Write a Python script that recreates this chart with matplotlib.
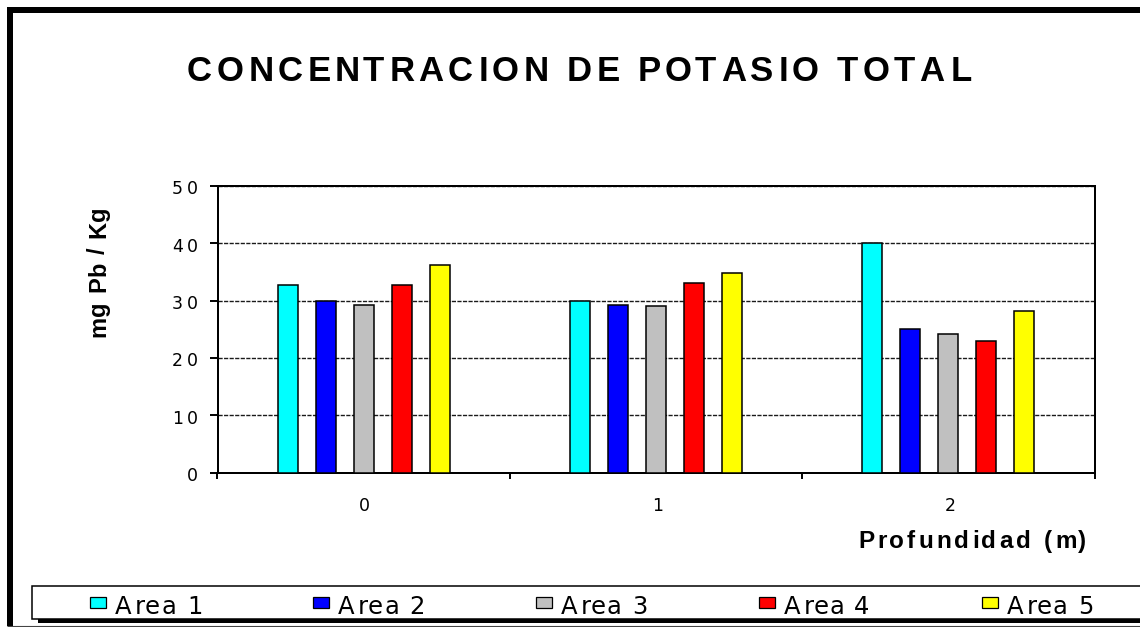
import matplotlib
matplotlib.use("Agg")
import numpy as np
import matplotlib.pyplot as plt
import matplotlib.transforms as mtransforms
from matplotlib import font_manager
from matplotlib.font_manager import FontProperties, findfont, get_font
from matplotlib.ft2font import LoadFlags
from matplotlib.patches import Rectangle
from matplotlib.lines import Line2D

# ---- data -------------------------------------------------------------
title = "CONCENTRACION DE POTASIO TOTAL"
y_label = "mg Pb / Kg"
x_label = "Profundidad (m)"
depths = ["0", "1", "2"]
areas = ["Area 1", "Area 2", "Area 3", "Area 4", "Area 5"]
area1 = [32.8, 30.0, 40.0]
area2 = [30.0, 29.3, 25.1]
area3 = [29.3, 29.0, 24.1]
area4 = [32.8, 33.1, 23.0]
area5 = [36.3, 34.9, 28.2]
y_ticks = [0, 10, 20, 30, 40, 50]
colors = ["#00FFFF", "#0000FF", "#C0C0C0", "#FF0000", "#FFFF00"]

series = [area1, area2, area3, area4, area5]

# ---- figure geometry (pixels) ----------------------------------------
DPI = 100
W, H = 1140, 627
fig = plt.figure(figsize=(W / DPI, H / DPI), dpi=DPI)
fig.patch.set_facecolor("white")

_names = {f.name for f in font_manager.fontManager.ttflist}
SANS = "Liberation Sans" if "Liberation Sans" in _names else "DejaVu Sans"
WIDE = "DejaVu Sans"


def fx(x):
    return x / W


def fy(y):
    return 1 - y / H


def glyph_metrics(s, size, weight, family):
    fp = FontProperties(family=family, weight=weight, size=size)
    font = get_font(findfont(fp))
    font.set_size(size, DPI)
    out = []
    for ch in s:
        g = font.load_char(ord(ch), flags=LoadFlags.NO_HINTING)
        out.append((g.linearHoriAdvance / 65536, g.horiBearingX / 64, g.width / 64))
    return out


def spaced_text(base, x, y, s, size, weight="normal", family=SANS, ha="left",
                span=None, track=0.0, vertical=False, ox=0.0, oy=0.0, color="black"):
    """Draw text letter by letter with extra tracking between the glyphs."""
    m = glyph_metrics(s, size, weight, family)
    n = len(s)
    pens = np.cumsum([0.0] + [a for a, _, _ in m[:-1]])
    natural = pens[-1] + m[-1][1] + m[-1][2] - m[0][1]
    if span is not None and n > 1:
        track = (span - natural) / (n - 1)
    total = natural + track * (n - 1)
    shift = {"left": 0.0, "center": -total / 2, "right": -total}[ha]
    for i, ch in enumerate(s):
        if ch == " ":
            continue
        d = shift + pens[i] + i * track + m[i][1] - m[0][1]
        dx, dy = (0.0, d) if vertical else (d, 0.0)
        tr = base + mtransforms.ScaledTranslation((ox + dx) / DPI, (oy + dy) / DPI,
                                                  fig.dpi_scale_trans)
        fig.text(x, y, ch, transform=tr, ha="left", va="baseline",
                 rotation=90 if vertical else 0, rotation_mode="anchor",
                 fontsize=size, fontweight=weight, family=family, color=color)


def px_rect(x, y_top, w, h, **kw):
    r = Rectangle((fx(x), fy(y_top + h)), w / W, h / H, transform=fig.transFigure, **kw)
    fig.add_artist(r)
    return r


# ---- plot area --------------------------------------------------------
ax_left, ax_right, ax_top, ax_bottom = 217.5, 1094.5, 186.0, 472.5
ax = fig.add_axes([fx(ax_left), fy(ax_bottom), (ax_right - ax_left) / W,
                   (ax_bottom - ax_top) / H])
ax.set_facecolor("white")
ax.set_xlim(-0.5, len(depths) - 0.5)
ax.set_ylim(y_ticks[0], y_ticks[-1])

x = np.arange(len(depths))
step = 0.13
width = 0.068
for i, vals in enumerate(series):
    ax.bar(x + (i - 2) * step, vals, width, color=colors[i], edgecolor="black",
           linewidth=1.1, zorder=3)

ax.set_yticks(y_ticks)
ax.set_xticks(np.arange(len(depths) + 1) - 0.5)
ax.yaxis.grid(True, color="#1a1a1a", linewidth=1.0, linestyle=(0, (3, 1)), zorder=1)
ax.set_axisbelow(True)
ax.tick_params(axis="y", direction="out", length=5.8, width=1.4, labelleft=False)
ax.tick_params(axis="x", direction="out", length=4.3, width=1.4, labelbottom=False)
for sp in ax.spines.values():
    sp.set_linewidth(1.44)
    sp.set_color("black")

# y tick labels
ybase = mtransforms.blended_transform_factory(ax.transAxes, ax.transData)
for v in y_ticks:
    s = str(v)
    spaced_text(ybase, 0, v, s, 12.5, family=WIDE, ha="right",
                span=24 if len(s) > 1 else None, ox=196 - ax_left, oy=-8.5)

# x tick labels
xbase = mtransforms.blended_transform_factory(ax.transData, ax.transAxes)
for i, lab in enumerate(depths):
    spaced_text(xbase, i, 0, lab, 12.5, family=WIDE, ha="center",
                oy=-(511 - ax_bottom))

# ---- titles -----------------------------------------------------------
spaced_text(fig.transFigure, fx(187), fy(81), title, 25, weight="bold",
            ha="left", span=781)
spaced_text(fig.transFigure, fx(105), fy(337), y_label, 17, weight="bold",
            ha="left", span=128, vertical=True)
spaced_text(fig.transFigure, fx(1085), fy(548), x_label, 17.5, weight="bold",
            ha="right", span=227)

# ---- legend -----------------------------------------------------------
px_rect(38, 592, 1120, 31, facecolor="black", edgecolor="none", zorder=2)
px_rect(32, 586, 1120, 33, facecolor="white", edgecolor="black", linewidth=1.1, zorder=3)
for i, name in enumerate(areas):
    sq = 90 + i * 223
    px_rect(sq, 597, 16, 11, facecolor=colors[i], edgecolor="black", linewidth=0.9, zorder=4)
    spaced_text(fig.transFigure, fx(sq + 25), fy(614.5), name, 17.5, family=WIDE,
                ha="left", span=82.5)

# ---- outer frame ------------------------------------------------------
fig.add_artist(Line2D([fx(10), fx(10)], [fy(7), fy(626)], transform=fig.transFigure,
                      color="black", linewidth=4.32, solid_capstyle="butt"))
fig.add_artist(Line2D([fx(7), fx(1145)], [fy(10), fy(10)], transform=fig.transFigure,
                      color="black", linewidth=4.32, solid_capstyle="butt"))
fig.add_artist(Line2D([fx(7), fx(1145)], [fy(625.5), fy(625.5)], transform=fig.transFigure,
                      color="#444444", linewidth=0.8, solid_capstyle="butt"))

fig.savefig("out.png", dpi=DPI, facecolor="white")
